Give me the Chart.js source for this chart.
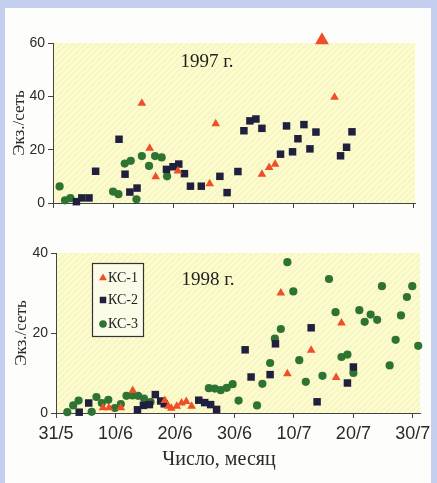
<!DOCTYPE html>
<html>
<head>
<meta charset="utf-8">
<script src="https://cdn.jsdelivr.net/npm/chart.js@4.4.1/dist/chart.umd.min.js"></script>
<style>
  html, body { margin: 0; padding: 0; }
  body { width: 437px; height: 483px; background: #c4ceee; position: relative; overflow: hidden; }
  #page { position: absolute; left: 5px; top: 8px; width: 426px; height: 475px; background: #fdfdfb; }
  canvas { position: absolute; left: 0; }
  #c1 { top: 0; width: 437px; height: 220px; }
  #c2 { top: 220px; width: 437px; height: 263px; }
</style>
</head>
<body>
<div id="page"></div>
<canvas id="c1" width="437" height="220"></canvas>
<canvas id="c2" width="437" height="263"></canvas>
<script>
// days counted from 31/5
const tickDays = [0, 10, 20, 30, 40, 50, 60];
const tickLabels = ['31/5', '10/6', '20/6', '30/6', '10/7', '20/7', '30/7'];
const seriesNames = ['КС-1', 'КС-2', 'КС-3'];

// 1997
const ks1_97_day = [14.8, 16.1, 17.1, 20.8, 26.1, 27.1, 34.8, 36.0, 37.0, 44.8, 46.9];
const ks1_97_val = [37.4, 20.5, 9.8, 12.0, 7.2, 29.7, 10.8, 13.3, 14.5, 61, 39.7];
const ks2_97_day = [3.9, 4.8, 6.0, 7.1, 11.0, 12.0, 12.8, 14.0, 18.9, 20.0, 20.95, 21.9, 22.9, 24.7, 27.8, 29.0, 30.8,
  31.8, 32.8, 33.8, 34.8, 37.9, 38.9, 39.9, 40.8, 41.8, 42.8, 43.8, 47.9, 48.9, 49.8];
const ks2_97_val = [0.5, 1.9, 1.9, 11.9, 23.9, 10.8, 4.1, 5.6, 12.6, 13.6, 14.6, 11.0, 6.3, 6.3, 10.0, 3.9, 11.8,
  27.1, 30.8, 31.5, 28.0, 18.3, 28.9, 19.2, 24.1, 29.4, 20.3, 26.6, 17.7, 20.9, 26.7];
const ks3_97_day = [1.1, 2.0, 2.9, 10.0, 10.9, 11.95, 12.95, 13.9, 14.8, 16.0, 17.0, 18.1, 19.0];
const ks3_97_val = [6.2, 1.0, 1.8, 4.3, 3.3, 14.8, 15.8, 1.4, 17.6, 13.9, 17.6, 17.1, 10.0];

// 1998
const ks1_98_day = [7.9, 8.9, 10.9, 12.9, 18.3, 18.9, 19.4, 20.3, 21.1, 21.9, 22.8, 37.8, 38.9, 42.9, 47.1, 48.0];
const ks1_98_val = [1.3, 1.3, 1.3, 5.6, 3.1, 1.7, 1.2, 1.7, 2.5, 2.9, 1.7, 30.0, 9.8, 15.7, 8.9, 22.5];
const ks2_98_day = [3.9, 5.5, 13.7, 14.7, 15.7, 16.7, 17.6, 18.2, 24.0, 25.0, 26.0, 27.0, 31.8, 32.8, 36.0, 36.9, 42.9, 43.9, 49.0, 50.0];
const ks2_98_val = [0.2, 2.5, 0.8, 1.9, 2.1, 4.6, 3.0, 2.3, 3.2, 2.6, 2.1, 0.9, 15.8, 9.0, 9.6, 17.3, 21.3, 2.8, 7.5, 11.5];
const ks3_98_day = [1.9, 2.9, 3.8, 6.0, 6.8, 7.7, 8.8, 9.9, 10.9, 11.85, 12.85, 13.8, 14.8, 15.9,
  25.7, 26.7, 27.7, 28.7, 29.7, 30.7, 33.8, 34.7, 36.0, 36.8, 37.8, 38.9, 39.9, 40.9, 42.0,
  44.8, 45.9, 47.0, 48.0, 49.0, 50.0, 51.0, 51.9, 52.9, 54.0, 54.8, 56.1, 57.1, 58.0, 59.0, 59.9, 60.9];
const ks3_98_val = [0.2, 1.9, 3.1, 0.3, 4.0, 2.5, 3.3, 1.25, 2.25, 4.3, 4.4, 4.3, 3.6, 2.75,
  6.2, 6.1, 5.7, 6.3, 7.2, 3.1, 1.9, 7.3, 12.5, 18.6, 21.0, 37.7, 30.4, 13.2, 7.8,
  9.3, 33.5, 25.2, 14.0, 14.6, 10.0, 25.7, 22.8, 24.6, 23.3, 31.7, 11.9, 18.3, 24.4, 29.0, 31.7, 16.8];

const RED = '#ef4f27', NAVY = '#20203e', GREEN = '#2f7333';
const pts = (d, v) => d.map((x, i) => ({ x: x, y: v[i] }));

// yellow hatched plot background
const hatch = (() => {
  const c = document.createElement('canvas'); c.width = 6; c.height = 6;
  const g = c.getContext('2d');
  g.fillStyle = '#f8f7c0'; g.fillRect(0, 0, 6, 6);
  g.strokeStyle = 'rgba(255,255,232,0.9)'; g.lineWidth = 1.2;
  g.beginPath();
  g.moveTo(0, 6); g.lineTo(6, 0);
  g.moveTo(-1, 1); g.lineTo(1, -1);
  g.moveTo(5, 7); g.lineTo(7, 5);
  g.stroke();
  return c;
})();
const areaBg = {
  id: 'areaBg',
  beforeDraw(chart) {
    const { ctx, chartArea: a } = chart;
    ctx.save();
    ctx.fillStyle = ctx.createPattern(hatch, 'repeat');
    ctx.fillRect(a.left, a.top, a.right - a.left, a.bottom - a.top);
    ctx.restore();
  }
};

// year caption and (bottom panel) x title
const captions = {
  id: 'captions',
  afterDraw(chart, args, o) {
    const ctx = chart.ctx;
    ctx.save();
    ctx.fillStyle = '#222';
    ctx.textAlign = 'center';
    ctx.textBaseline = 'middle';
    ctx.font = '19px "Liberation Serif"';
    ctx.fillText(o.year, o.yearX, o.yearY);
    if (o.xTitle) {
      ctx.fillStyle = '#2a2a2a';
      ctx.font = '20px "Liberation Serif"';
      ctx.fillText(o.xTitle, 219, 240);
    }
    ctx.restore();
  }
};

const legendBox = {
  id: 'legendBox',
  afterDraw(chart, args, o) {
    if (!o.show) return;
    const ctx = chart.ctx;
    ctx.save();
    ctx.fillStyle = '#fbfbe8';
    ctx.fillRect(92, 43, 51, 73);
    ctx.strokeStyle = '#333'; ctx.lineWidth = 1.2;
    ctx.strokeRect(92.5, 43.5, 51, 73);
    const rows = [58, 80, 104];
    chart.data.datasets.forEach((ds, i) => {
      ctx.fillStyle = ds.backgroundColor;
      ctx.strokeStyle = ds.backgroundColor;
      Chart.helpers.drawPoint(ctx, { pointStyle: ds.pointStyle, radius: ds.legendRadius, borderWidth: 0 }, 103, rows[i]);
      ctx.fillStyle = '#222';
      ctx.font = '14px "Liberation Serif"';
      ctx.textBaseline = 'middle';
      ctx.fillText(seriesNames[i], 108, rows[i]);
    });
    ctx.restore();
  }
};

function makeDatasets(d1, d2, d3) {
  return [
    { label: seriesNames[0], data: d1, pointStyle: 'triangle', backgroundColor: RED, borderColor: RED, borderWidth: 0,
      pointRadius: c => (c.raw && c.raw.y > 60 ? 8 : 5), legendRadius: 4.6, clip: false },
    { label: seriesNames[1], data: d2, pointStyle: 'rect', backgroundColor: NAVY, borderColor: NAVY, borderWidth: 0,
      pointRadius: 5.3, legendRadius: 4.6, clip: false },
    { label: seriesNames[2], data: d3, pointStyle: 'circle', backgroundColor: GREEN, borderColor: GREEN, borderWidth: 0,
      pointRadius: 4.1, legendRadius: 3.8, clip: false }
  ];
}

function makeChart(id, o) {
  return new Chart(document.getElementById(id), {
    type: 'scatter',
    data: { datasets: o.datasets },
    options: {
      responsive: false,
      animation: false,
      layout: { padding: { left: 0, top: o.top, right: o.right, bottom: 0 } },
      plugins: {
        legend: { display: false },
        tooltip: { enabled: false },
        captions: { year: o.year, yearX: o.yearX, yearY: o.yearY, xTitle: o.showX ? 'Число, месяц' : '' },
        legendBox: { show: o.legend }
      },
      scales: {
        x: {
          type: 'linear', min: 0, max: o.xMax,
          afterBuildTicks: s => { s.ticks = tickDays.map(v => ({ value: v })); },
          afterFit: s => { s.height = o.xHeight; },
          grid: { drawOnChartArea: false, tickLength: 5, tickColor: '#444' },
          border: { color: '#444', width: 1 },
          ticks: {
            display: o.showX, padding: 5, maxRotation: 0, autoSkip: false, color: '#2a2a2a',
            font: { family: 'Liberation Sans', size: 18 },
            callback: (v, i) => tickLabels[i]
          }
        },
        y: {
          min: 0, max: o.yMax,
          afterFit: s => { s.width = o.yWidth; },
          grid: { drawOnChartArea: false, tickLength: 5, tickColor: '#444' },
          border: { color: '#444', width: 1 },
          ticks: { stepSize: 20, padding: 3, color: '#2a2a2a', font: { family: 'Liberation Sans', size: 14 } },
          title: {
            display: true, text: 'Экз./сеть', color: '#2a2a2a',
            font: { family: 'Liberation Serif', size: 17 }, padding: { top: o.yTitlePad, bottom: 0 }
          }
        }
      }
    },
    plugins: [areaBg, captions, legendBox]
  });
}

makeChart('c1', {
  datasets: makeDatasets(pts(ks1_97_day, ks1_97_val), pts(ks2_97_day, ks2_97_val), pts(ks3_97_day, ks3_97_val)),
  top: 43, right: 22, xMax: 60.3, yMax: 60, xHeight: 17, yWidth: 53, yTitlePad: 9,
  showX: false, year: '1997 г.', yearX: 207, yearY: 62, legend: false
});

makeChart('c2', {
  datasets: makeDatasets(pts(ks1_98_day, ks1_98_val), pts(ks2_98_day, ks2_98_val), pts(ks3_98_day, ks3_98_val)),
  top: 33, right: 17, xMax: 61.2, yMax: 40, xHeight: 70, yWidth: 56, yTitlePad: 11,
  showX: true, year: '1998 г.', yearX: 208, yearY: 60, legend: true
});
</script>
</body>
</html>
